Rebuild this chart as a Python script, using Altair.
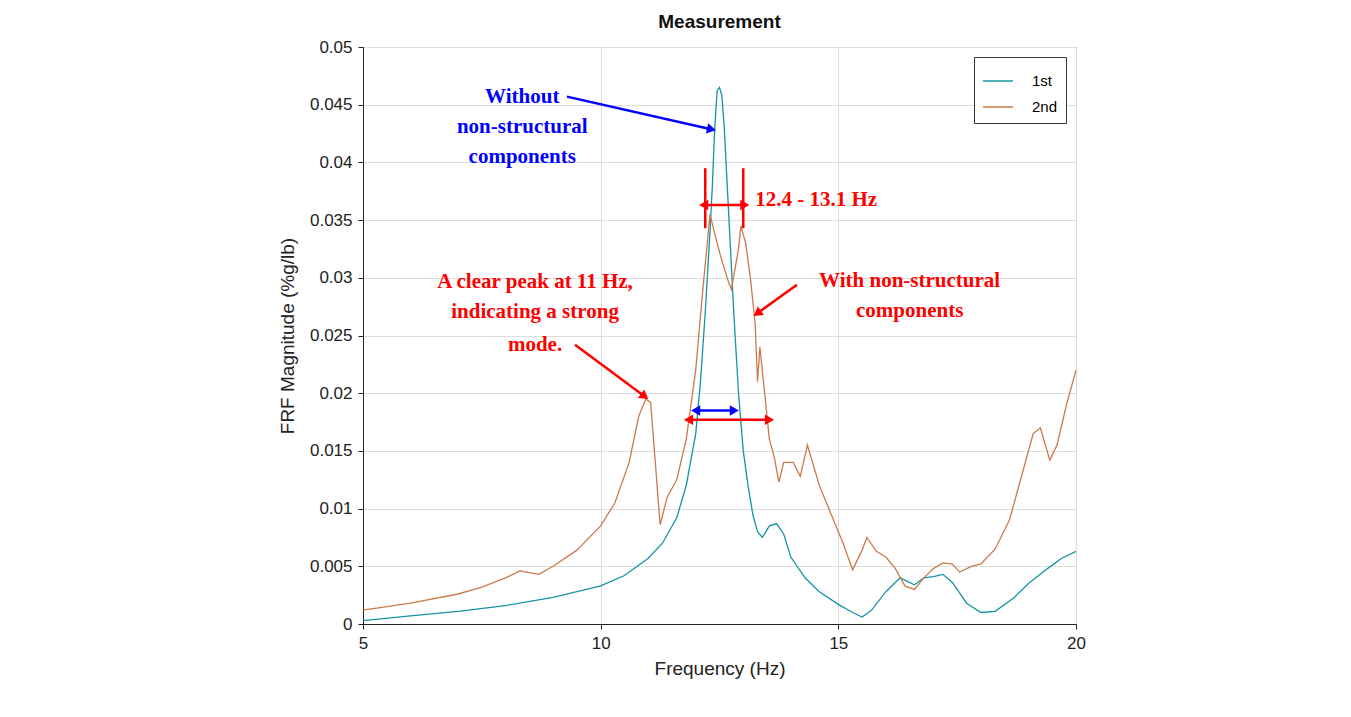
import altair as alt
import pandas as pd
import math

f1 = [5,6,7,8,9,10,10.5,11,11.3,11.6,11.8,12.0,12.1,12.2,12.3,12.35,12.4,12.45,12.5,12.55,12.6,12.65,12.7,12.8,12.9,13.0,13.1,13.2,13.3,13.4,13.55,13.7,13.85,14.0,14.3,14.6,15.0,15.3,15.5,15.7,16.0,16.3,16.6,16.8,17.0,17.2,17.4,17.7,18.0,18.3,18.7,19.0,19.4,19.7,20]
v1 = [0.0003,0.0007,0.0011,0.0016,0.0023,0.0033,0.0042,0.0057,0.0070,0.0092,0.012,0.0165,0.021,0.027,0.034,0.038,0.043,0.0462,0.0465,0.0458,0.043,0.039,0.035,0.027,0.020,0.015,0.012,0.0095,0.008,0.0075,0.0085,0.0087,0.0078,0.0058,0.0040,0.0028,0.0017,0.0010,0.0006,0.0012,0.0028,0.0040,0.0034,0.0040,0.0041,0.0043,0.0036,0.0018,0.0010,0.0011,0.0023,0.0035,0.0048,0.0057,0.0063]
f2 = [5,6,7,7.5,8,8.3,8.7,9,9.5,10,10.3,10.6,10.8,10.95,11.05,11.15,11.25,11.4,11.6,11.8,12.0,12.15,12.3,12.45,12.55,12.7,12.75,12.9,12.95,13.05,13.15,13.25,13.3,13.35,13.45,13.55,13.65,13.75,13.85,14.05,14.2,14.35,14.6,14.9,15.1,15.3,15.5,15.6,15.8,16.0,16.2,16.4,16.6,16.8,17.0,17.2,17.4,17.55,17.8,18.0,18.3,18.6,18.9,19.1,19.25,19.45,19.6,19.8,20]
v2 = [0.0012,0.0018,0.0026,0.0032,0.0040,0.0046,0.0043,0.0050,0.0064,0.0085,0.0105,0.014,0.0180,0.0195,0.0192,0.014,0.0086,0.011,0.0125,0.016,0.022,0.029,0.0355,0.033,0.0315,0.0295,0.029,0.0325,0.0345,0.033,0.0300,0.026,0.021,0.024,0.020,0.016,0.0145,0.0123,0.0140,0.014,0.0128,0.0155,0.012,0.0090,0.0070,0.0047,0.0064,0.0075,0.0063,0.0058,0.0048,0.0033,0.0030,0.0040,0.0048,0.0053,0.0052,0.0045,0.0050,0.0052,0.0065,0.0090,0.0135,0.0165,0.0170,0.0142,0.0155,0.019,0.022]

W, H = 713, 577
XMIN, XMAX, YMAX = 5, 20, 0.05

df = pd.concat([
    pd.DataFrame({"f": f1, "v": v1, "s": "1st"}),
    pd.DataFrame({"f": f2, "v": v2, "s": "2nd"}),
])

xs = alt.Scale(domain=[XMIN, XMAX], nice=False)
ys = alt.Scale(domain=[0, YMAX], nice=False)

lines = alt.Chart(df).mark_line(strokeWidth=1.3).encode(
    x=alt.X("f:Q", scale=xs, title="Frequency (Hz)",
            axis=alt.Axis(values=[5, 10, 15, 20], grid=True, gridColor="#dcdcdc",
                          labelFontSize=17, titleFontSize=19, tickSize=5, tickColor="#222",
                          domainColor="#222", labelColor="#222", titleColor="#222",
                          titleFontWeight="normal", labelPadding=6, titlePadding=8,
                          labelFlush=False)),
    y=alt.Y("v:Q", scale=ys, title="FRF Magnitude (%g/lb)",
            axis=alt.Axis(values=[i * 0.005 for i in range(11)], format="~g", grid=True,
                          gridColor="#dcdcdc", labelFontSize=17, titleFontSize=19,
                          tickSize=5, tickColor="#222", domainColor="#222",
                          labelColor="#222", titleColor="#222", titleFontWeight="normal",
                          labelPadding=6, titlePadding=12)),
    color=alt.Color("s:N", scale=alt.Scale(domain=["1st", "2nd"], range=["#1494a3", "#cc7a4a"]),
                    legend=alt.Legend(title=None, orient="top-right", symbolType="stroke",
                                      symbolSize=900, symbolStrokeWidth=1.5, labelFontSize=15,
                                      strokeColor="#333", fillColor="white", padding=8,
                                      offset=10, labelOffset=18)),
)

texts_df = pd.DataFrame([
    (8.35, 0.0457, "Without", "blue", "center"),
    (8.35, 0.0431, "non-structural", "blue", "center"),
    (8.35, 0.0405, "components", "blue", "center"),
    (13.25, 0.0367, "12.4 - 13.1 Hz", "red", "left"),
    (8.62, 0.0296, "A clear peak at 11 Hz,", "red", "center"),
    (8.62, 0.0270, "indicating a strong", "red", "center"),
    (8.62, 0.0242, "mode.", "red", "center"),
    (16.5, 0.0297, "With non-structural", "red", "center"),
    (16.5, 0.0271, "components", "red", "center"),
], columns=["x", "y", "t", "c", "a"])

layers = [lines]
for a in ["center", "left"]:
    sub = texts_df[texts_df.a == a]
    layers.append(alt.Chart(sub).mark_text(font="Liberation Serif", fontWeight="bold",
                                           fontSize=21, align=a, baseline="middle").encode(
        x=alt.X("x:Q", scale=xs), y=alt.Y("y:Q", scale=ys), text="t:N",
        color=alt.Color("c:N", scale=None)))

def px(x, y):
    return ((x - XMIN) / (XMAX - XMIN) * W, H - y / YMAX * H)

def angle(x1, y1, x2, y2):
    a, b = px(x1, y1)
    c, d = px(x2, y2)
    return math.degrees(math.atan2(c - a, -(d - b))) % 360

arrows = [
    (9.29, 0.0457, 12.30, 0.0429, "blue", False),
    (9.46, 0.0242, 10.90, 0.0198, "red", False),
    (14.13, 0.0294, 13.32, 0.0270, "red", False),
    (12.03, 0.0185, 12.78, 0.0185, "blue", True),
    (11.88, 0.0177, 13.52, 0.0177, "red", True),
    (12.2, 0.0363, 13.0, 0.0363, "red", True),
]
rule_rows, head_rows = [], []
for x1, y1, x2, y2, c, dbl in arrows:
    rule_rows.append(dict(x=x1, y=y1, x2=x2, y2=y2, c=c))
    head_rows.append(dict(x=x2, y=y2, c=c, ang=angle(x1, y1, x2, y2)))
    if dbl:
        head_rows.append(dict(x=x1, y=y1, c=c, ang=angle(x2, y2, x1, y1)))
rule_rows.append(dict(x=12.2, y=0.0395, x2=12.2, y2=0.0343, c="red"))
rule_rows.append(dict(x=13.0, y=0.0395, x2=13.0, y2=0.0343, c="red"))

layers.append(alt.Chart(pd.DataFrame(rule_rows)).mark_rule(strokeWidth=2.5).encode(
    x=alt.X("x:Q", scale=xs), y=alt.Y("y:Q", scale=ys), x2="x2:Q", y2="y2:Q",
    color=alt.Color("c:N", scale=None)))
layers.append(alt.Chart(pd.DataFrame(head_rows)).mark_point(shape="triangle", filled=True,
                                                             size=110, opacity=1).encode(
    x=alt.X("x:Q", scale=xs), y=alt.Y("y:Q", scale=ys),
    angle=alt.Angle("ang:Q", scale=None),
    color=alt.Color("c:N", scale=None)))

chart = alt.layer(*layers).properties(
    width=W, height=H,
    title=alt.TitleParams("Measurement", fontSize=19, fontWeight="bold", color="#111", offset=6),
    autosize=alt.AutoSizeParams(type="none"),
    padding={"left": 355, "top": 39, "right": 10, "bottom": 80},
).configure(font="Liberation Sans", background="white").configure_view(stroke="#222", strokeWidth=1)

chart.save("out.html", embed_options={"renderer": "svg", "actions": False})
